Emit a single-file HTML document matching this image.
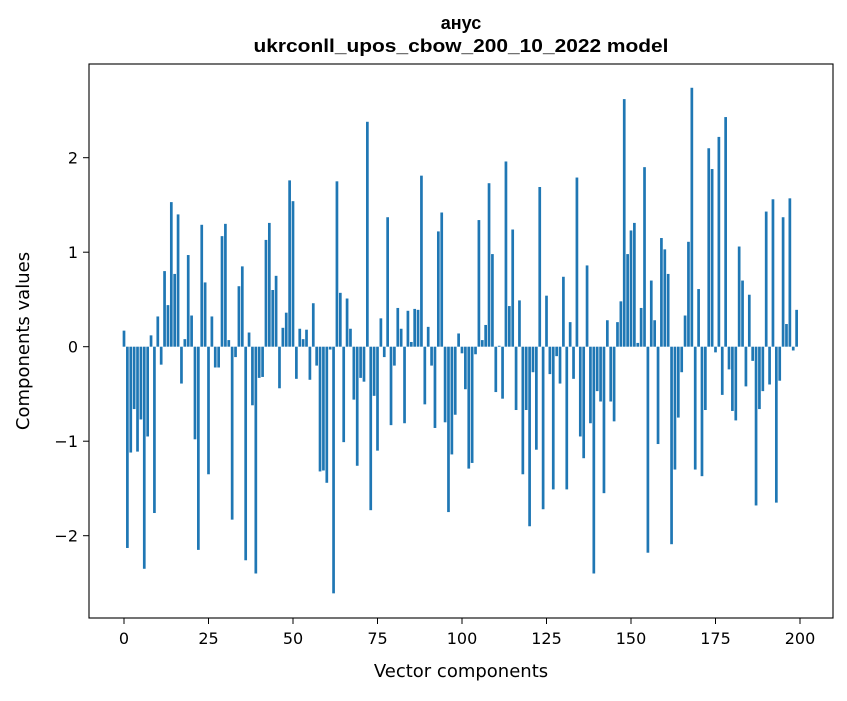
<!DOCTYPE html>
<html><head><meta charset="utf-8"><style>
body{margin:0;background:#fff;}
svg text{font-family:"DejaVu Sans","Liberation Sans",sans-serif;fill:#000;}
svg text.ttl{font-family:"Liberation Sans","DejaVu Sans",sans-serif;}
</style></head><body>
<svg id="chart" width="847" height="696" viewBox="0 0 847 696">
<rect x="0" y="0" width="847" height="696" fill="#fff"/>
<text class="ttl" x="461" y="29" text-anchor="middle" font-size="18" font-weight="bold">анус</text>
<text class="ttl" x="461" y="52" text-anchor="middle" font-size="18.5" font-weight="bold" textLength="415" lengthAdjust="spacingAndGlyphs">ukrconll_upos_cbow_200_10_2022 model</text>
<g id="bars"></g>
<g id="xticks"></g>
<g id="yticks"></g>
<rect x="89" y="64" width="744" height="554" fill="none" stroke="#000" stroke-width="1.1"/>
<text x="461" y="677" text-anchor="middle" font-size="18">Vector components</text>
<text transform="translate(29,341) rotate(-90)" text-anchor="middle" font-size="18">Components values</text>
</svg>
<script>
const values = [
0.17,-2.13,-1.12,-0.66,-1.11,-0.77,-2.35,-0.95,0.12,-1.76,
0.32,-0.19,0.80,0.44,1.53,0.77,1.40,-0.39,0.08,0.97,
0.33,-0.98,-2.15,1.29,0.68,-1.35,0.32,-0.22,-0.22,1.17,
1.30,0.07,-1.83,-0.11,0.64,0.85,-2.26,0.15,-0.62,-2.40,
-0.33,-0.32,1.13,1.31,0.60,0.75,-0.44,0.20,0.36,1.76,
1.54,-0.34,0.19,0.08,0.18,-0.35,0.46,-0.20,-1.32,-1.31,
-1.44,-0.03,-2.61,1.75,0.57,-1.01,0.51,0.19,-0.56,-1.26,
-0.33,-0.37,2.38,-1.73,-0.52,-1.10,0.30,-0.11,1.37,-0.83,
-0.20,0.41,0.19,-0.81,0.38,0.05,0.40,0.39,1.81,-0.61,
0.21,-0.20,-0.86,1.22,1.42,-0.80,-1.75,-1.14,-0.72,0.14,
-0.07,-0.45,-1.29,-1.23,-0.08,1.34,0.07,0.23,1.73,0.98,
-0.48,0.01,-0.55,1.96,0.43,1.24,-0.67,0.49,-1.35,-0.67,
-1.90,-0.27,-1.09,1.69,-1.72,0.54,-0.29,-1.51,-0.10,-0.39,
0.74,-1.51,0.26,-0.34,1.79,-0.95,-1.18,0.86,-0.81,-2.40,
-0.47,-0.58,-1.55,0.28,-0.58,-0.79,0.26,0.48,2.62,0.98,
1.23,1.31,0.04,0.41,1.90,-2.18,0.70,0.28,-1.03,1.15,
1.03,0.77,-2.09,-1.30,-0.75,-0.27,0.33,1.11,2.74,-1.30,
0.61,-1.37,-0.67,2.10,1.88,-0.06,2.22,-0.51,2.43,-0.24,
-0.68,-0.78,1.06,0.70,-0.42,0.55,-0.15,-1.68,-0.66,-0.47,
1.43,-0.40,1.56,-1.65,-0.36,1.37,0.24,1.57,-0.04,0.39
];
const xTicks = [0,25,50,75,100,125,150,175,200];
const yTicks = [-2,-1,0,1,2];
const NS='http://www.w3.org/2000/svg';
function xs(v){return 124 + v*3.38;}
function ys(v){return 346.7 - v*94.5;}
const bars=document.getElementById('bars');
values.forEach((v,i)=>{
  const r=document.createElementNS(NS,'rect');
  const w=0.8*3.38;
  r.setAttribute('x',xs(i)-w/2);
  r.setAttribute('y',Math.min(ys(v),ys(0)));
  r.setAttribute('width',w);
  r.setAttribute('height',Math.abs(ys(v)-ys(0)));
  r.setAttribute('fill','#1f77b4');
  
  
  bars.appendChild(r);
});
const xg=document.getElementById('xticks');
xTicks.forEach(t=>{
  const l=document.createElementNS(NS,'line');
  l.setAttribute('x1',xs(t));l.setAttribute('x2',xs(t));
  l.setAttribute('y1',618);l.setAttribute('y2',624);
  l.setAttribute('stroke','#000');
  
  
  xg.appendChild(l);
  const tx=document.createElementNS(NS,'text');
  tx.setAttribute('x',xs(t));tx.setAttribute('y',644);
  tx.setAttribute('text-anchor','middle');tx.setAttribute('font-size','16');
  tx.textContent=t;
  
  
  xg.appendChild(tx);
});
const yg=document.getElementById('yticks');
yTicks.forEach(t=>{
  const l=document.createElementNS(NS,'line');
  l.setAttribute('x1',83);l.setAttribute('x2',89);
  l.setAttribute('y1',ys(t));l.setAttribute('y2',ys(t));
  l.setAttribute('stroke','#000');
  
  
  yg.appendChild(l);
  const tx=document.createElementNS(NS,'text');
  tx.setAttribute('x',78);tx.setAttribute('y',ys(t)+6);
  tx.setAttribute('text-anchor','end');tx.setAttribute('font-size','16');
  tx.textContent=t<0?'\u2212'+Math.abs(t):String(t);
  
  
  yg.appendChild(tx);
});
</script>
</body></html>
